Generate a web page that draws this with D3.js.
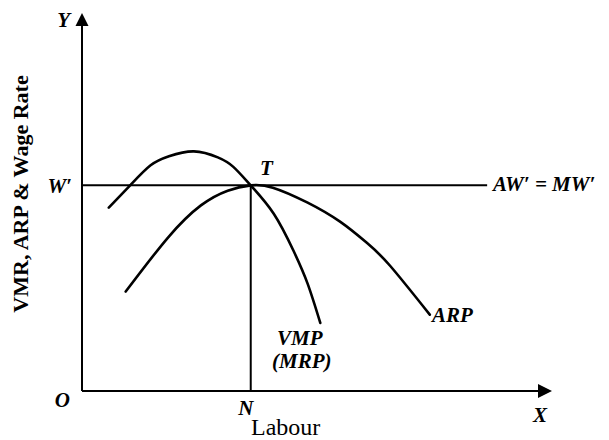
<!DOCTYPE html>
<html>
<head>
<meta charset="utf-8">
<script src="https://cdn.jsdelivr.net/npm/d3@7"></script>
<style>
  html, body { margin: 0; padding: 0; background: #fff; }
  svg { display: block; }
  text { font-family: "Liberation Serif", "DejaVu Serif", serif; fill: #000; }
</style>
</head>
<body>
<div id="chart"></div>
<script>
// ---- Data (units are arbitrary labour / value units) ----
const vmpX = [5.7, 10.4, 14.6, 18.5, 23.8, 28.9, 32.2, 35.9, 40.8, 45.0, 48.0, 50.7];
const vmpY = [48.5, 54.6, 59.7, 62.1, 63.4, 61.8, 59.3, 54.4, 46.9, 37.1, 28.4, 18.0];
const arpX = [9.3, 18.3, 25.3, 31.0, 35.9, 40.6, 47.9, 54.9, 60.6, 65.5, 74.0];
const arpY = [26.3, 40.6, 49.1, 53.0, 54.4, 53.8, 49.9, 44.8, 39.2, 33.2, 20.2];
const wageLevel = 54.4;          // W'
const wageLineEnd = 86.2;        // where AW' = MW' line stops
const labourN = 35.9;            // N
const xTickLabels = ["O", "N"];
const yTickLabels = ["W′"];
const curveLabels = ["VMP", "(MRP)", "ARP", "AW′ = MW′", "T"];

// ---- Layout ----
const W = 609, H = 440;
const origin = { x: 82, y: 391 };
const xEnd = 552, yTop = 13;

const x = d3.scaleLinear().domain([0, 100]).range([origin.x, xEnd]);
const y = d3.scaleLinear().domain([0, 100]).range([origin.y, yTop]);

const svg = d3.select("#chart").append("svg")
  .attr("width", W).attr("height", H);

// Axes (drawn as lines with arrowheads)
svg.append("line")
  .attr("x1", x(0)).attr("y1", y(0)).attr("x2", x(0)).attr("y2", y(100) + 12)
  .attr("stroke", "#000").attr("stroke-width", 2);
svg.append("line")
  .attr("x1", x(0)).attr("y1", y(0)).attr("x2", x(100) - 12).attr("y2", y(0))
  .attr("stroke", "#000").attr("stroke-width", 2);
// arrowheads
svg.append("path")
  .attr("d", `M${x(0)},${y(100)} L${x(0) - 6.5},${y(100) + 13} L${x(0) + 6.5},${y(100) + 13} Z`)
  .attr("fill", "#000");
svg.append("path")
  .attr("d", `M${x(100)},${y(0)} L${x(100) - 14},${y(0) - 7} L${x(100) - 14},${y(0) + 7} Z`)
  .attr("fill", "#000");

// Wage line W' (AW' = MW')
svg.append("line")
  .attr("x1", x(0)).attr("y1", y(wageLevel)).attr("x2", x(wageLineEnd)).attr("y2", y(wageLevel))
  .attr("stroke", "#000").attr("stroke-width", 2);

// Vertical TN
svg.append("line")
  .attr("x1", x(labourN)).attr("y1", y(wageLevel)).attr("x2", x(labourN)).attr("y2", y(0))
  .attr("stroke", "#000").attr("stroke-width", 2);

// Curves
const line = d3.line().x(d => x(d[0])).y(d => y(d[1])).curve(d3.curveNatural);
const vmp = vmpX.map((v, i) => [v, vmpY[i]]);
const arp = arpX.map((v, i) => [v, arpY[i]]);

svg.append("path").datum(vmp).attr("d", line)
  .attr("fill", "none").attr("stroke", "#000").attr("stroke-width", 2.6).attr("stroke-linecap", "round");
svg.append("path").datum(arp).attr("d", line)
  .attr("fill", "none").attr("stroke", "#000").attr("stroke-width", 2.6).attr("stroke-linecap", "round");

// Text helpers
const bi = (sel) => sel.attr("font-style", "italic").attr("font-weight", "bold").attr("font-size", 21);

// Axis letters
bi(svg.append("text").attr("x", 70).attr("y", 27).attr("text-anchor", "end").text("Y"));
bi(svg.append("text").attr("x", 540).attr("y", 422).attr("text-anchor", "middle").text("X"));
bi(svg.append("text").attr("x", 70).attr("y", 407).attr("text-anchor", "end").text(xTickLabels[0]));
bi(svg.append("text").attr("x", x(labourN) - 5).attr("y", 415).attr("text-anchor", "middle").text(xTickLabels[1]));
bi(svg.append("text").attr("x", 72).attr("y", y(wageLevel) + 8).attr("text-anchor", "end").text(yTickLabels[0]));

// Axis titles
svg.append("text").attr("x", 251).attr("y", 435)
  .attr("text-anchor", "start").attr("font-size", 24).text("Labour");
svg.append("text")
  .attr("transform", `translate(28, 194) rotate(-90)`)
  .attr("text-anchor", "middle").attr("font-size", 22).attr("font-weight", "bold")
  .text("VMR, ARP & Wage Rate");

// Curve labels
bi(svg.append("text").attr("x", 260).attr("y", 175).attr("text-anchor", "start").text(curveLabels[4]));
bi(svg.append("text").attr("x", 493).attr("y", 191).attr("text-anchor", "start")
  .attr("font-size", 22).text(curveLabels[3]));
bi(svg.append("text").attr("x", 432).attr("y", 322).attr("text-anchor", "start").text(curveLabels[2]));
bi(svg.append("text").attr("x", 277).attr("y", 345).attr("text-anchor", "start")
  .attr("font-size", 20).text(curveLabels[0]));
bi(svg.append("text").attr("x", 272).attr("y", 368).attr("text-anchor", "start")
  .attr("font-size", 20).text(curveLabels[1]));
</script>
</body>
</html>
